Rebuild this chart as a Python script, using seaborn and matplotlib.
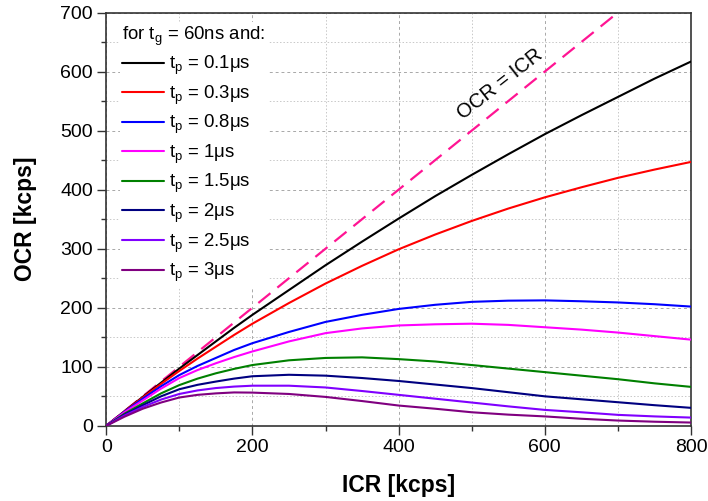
import numpy as np
import pandas as pd
import seaborn as sns
import matplotlib.pyplot as plt
from matplotlib.ticker import MultipleLocator

# ICR grid [kcps] and OCR curves [kcps]
icr = [0, 25, 50, 75, 100, 125, 150, 175, 200, 250, 300, 350, 400, 450, 500,
       550, 600, 650, 700, 750, 800]
ocr_01 = [0, 24.8, 49, 73, 97, 120, 143, 166, 188, 230, 272, 312, 351, 389, 425,
          460, 494, 526, 557, 588, 617]
ocr_03 = [0, 24.5, 48, 71, 93, 114, 134, 154, 173, 208, 241, 271, 299, 324, 347,
          368, 387, 404, 420, 434, 447]
ocr_08 = [0, 24, 46, 67, 86, 101.5, 115, 128.5, 140, 159, 176, 188, 198, 205, 210,
          212, 212.5, 211, 209, 206, 202]
ocr_1 = [0, 23, 43, 63, 81, 94.5, 106, 116.5, 126, 143, 157, 165, 170, 172, 173,
         171, 167, 163, 158, 152, 146]
ocr_15 = [0, 20.5, 38, 55, 69, 80, 89, 96.5, 103, 111, 115, 116, 113, 109, 103,
          97, 91, 85, 79, 72, 66]
ocr_2 = [0, 19, 35, 50, 62, 69.5, 75, 80, 84, 86.5, 85, 81, 76, 70, 64,
         57, 50, 45, 40, 35, 30.5]
ocr_25 = [0, 17.5, 32, 44.5, 54, 60, 64, 66.5, 68, 68, 65, 59, 52.5, 46, 39.5,
          33, 27, 23, 18.6, 16, 14]
ocr_3 = [0, 15.5, 29, 39.5, 48, 52.5, 55, 56.6, 56.3, 54, 49, 42, 34.4, 29, 23,
         19, 16, 12, 9, 7, 5.6]

tp_labels = ["0.1", "0.3", "0.8", "1", "1.5", "2", "2.5", "3"]
curves = [ocr_01, ocr_03, ocr_08, ocr_1, ocr_15, ocr_2, ocr_25, ocr_3]
colors = ["#000000", "#ff0000", "#0000ff", "#ff00ff", "#008000", "#000080", "#8000ff", "#800080"]

ident = [0, 800]

rows = []
for lab, ys in zip(tp_labels, curves):
    for x, y in zip(icr, ys):
        rows.append({"ICR": x, "OCR": y, "tp": r"t$_\mathrm{p}$ = " + lab + "μs"})
df = pd.DataFrame(rows)

sns.set_theme(style="white")
plt.rcParams["font.family"] = ["Liberation Sans", "DejaVu Sans"]
plt.rcParams["mathtext.fontset"] = "custom"
plt.rcParams["mathtext.rm"] = "Liberation Sans"
plt.rcParams["mathtext.it"] = "Liberation Sans"
plt.rcParams["text.color"] = "black"
plt.rcParams["axes.labelcolor"] = "black"
plt.rcParams["xtick.color"] = "black"
plt.rcParams["ytick.color"] = "black"

fig = plt.figure(figsize=(7.08, 5.01), dpi=100)
ax = fig.add_axes([0.15, 0.15, 0.826, 0.825])

# identity line
ax.plot(ident, ident, color="#ff1493", lw=1.6, ls=(0, (7, 4)), zorder=2)

sns.lineplot(data=df, x="ICR", y="OCR", hue="tp", palette=colors, lw=1.5,
             ax=ax, sort=False, zorder=3)

ax.set_xlim(0, 800)
ax.set_ylim(0, 700)
ax.xaxis.set_major_locator(MultipleLocator(200))
ax.xaxis.set_minor_locator(MultipleLocator(100))
ax.yaxis.set_major_locator(MultipleLocator(100))
ax.yaxis.set_minor_locator(MultipleLocator(50))
ax.tick_params(which="major", direction="out", length=6.5, width=1, labelsize=14,
               pad=3, bottom=True, left=True, color="#333333")
ax.tick_params(which="minor", direction="out", length=3.6, width=1, bottom=True,
               left=True, color="#333333")
ax.grid(which="major", color="#a8a8a8", ls=(0, (3, 3)), lw=0.7)
ax.grid(which="minor", color="#c8c8c8", ls=(0, (1.5, 2)), lw=0.7)
ax.set_axisbelow(True)
for s in ax.spines.values():
    s.set_color("#333333")
    s.set_linewidth(1.2)

ax.set_xlabel("ICR [kcps]", fontsize=16.5, fontweight="bold", labelpad=13)
ax.set_ylabel("OCR [kcps]", fontsize=16.5, fontweight="bold", labelpad=17)

ax.text(538, 578, "OCR = ICR", rotation=38, fontsize=14.5, ha="center", va="center")

handles, labels = ax.get_legend_handles_labels()
leg = ax.legend(handles, labels, title=r"for t$_\mathrm{g}$ = 60ns and:", loc="upper left",
                bbox_to_anchor=(0.007, 1.0),
                fontsize=13.4, title_fontsize=13.4, frameon=True, framealpha=1,
                edgecolor="white", fancybox=False, handlelength=2.25, handletextpad=0.25,
                labelspacing=0.34, borderpad=0.15, alignment="left")
leg.get_frame().set_linewidth(0)
leg.set_zorder(5)

fig.savefig("out.png", dpi=100)
